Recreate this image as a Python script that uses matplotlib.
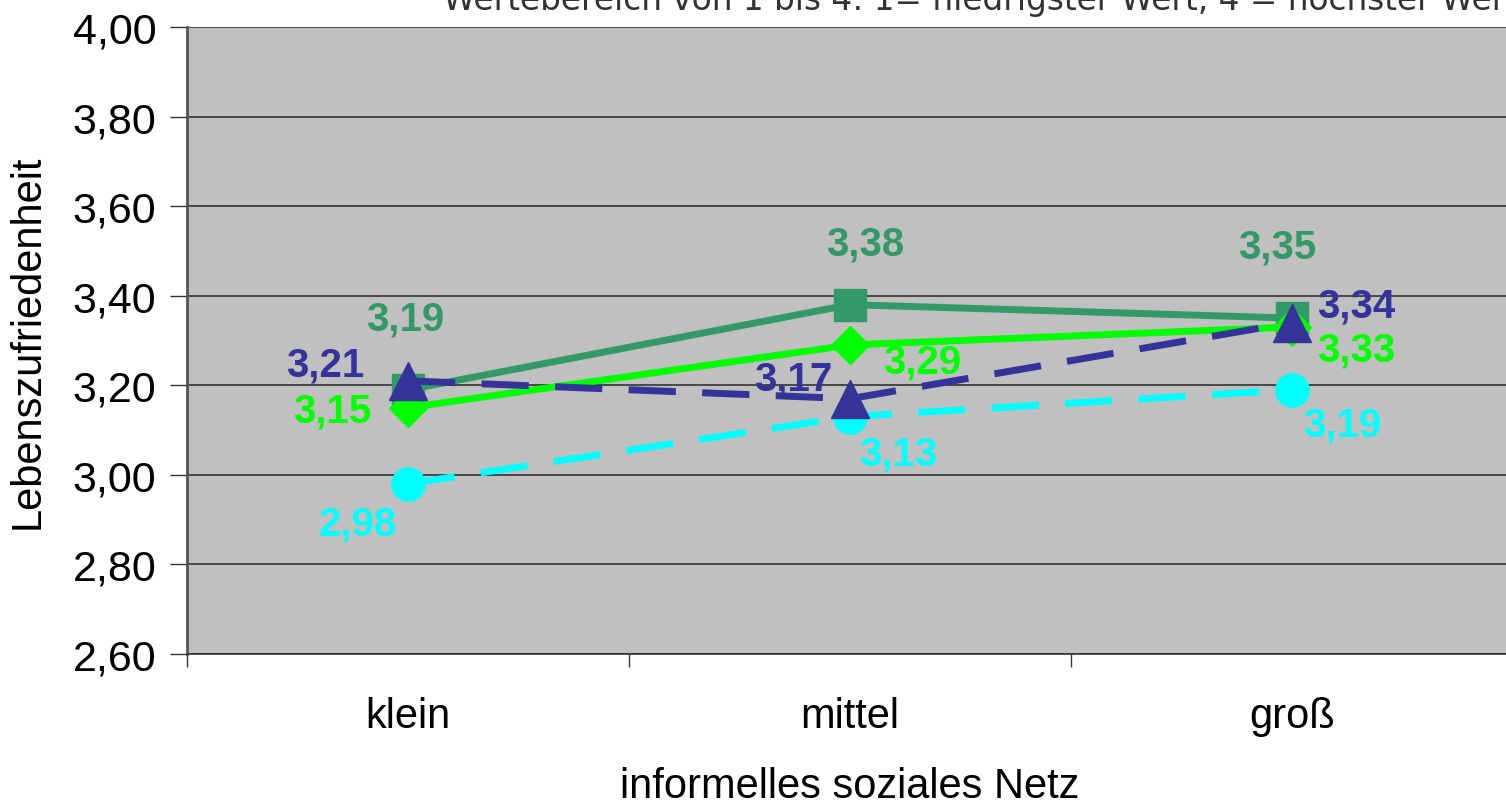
import matplotlib
matplotlib.use("Agg")
import matplotlib.pyplot as plt

categories = ["klein", "mittel", "groß"]
sq_vals = [3.19, 3.38, 3.35]      # seagreen squares
dia_vals = [3.15, 3.29, 3.33]     # green diamonds
tri_vals = [3.21, 3.17, 3.34]     # dark blue triangles
circ_vals = [2.98, 3.13, 3.19]    # cyan circles
yticks = [2.60, 2.80, 3.00, 3.20, 3.40, 3.60, 3.80, 4.00]

plt.rcParams['font.family'] = ['Liberation Sans', 'DejaVu Sans']

W, H = 1506, 803
fig = plt.figure(figsize=(W / 100, H / 100), dpi=100)
ax = fig.add_axes([187 / W, 1 - 655 / H, (1513 - 187) / W, (655 - 28) / H])
ax.set_facecolor("#C0C0C0")

x = list(range(len(categories)))
lw = 5
dash = (6.8, 3.8)
ax.plot(x, sq_vals, color="#339966", lw=lw, marker="s", ms=23, zorder=3)
ax.plot(x, dia_vals, color="#00FF00", lw=lw, marker="D", ms=19, zorder=4)
ax.plot(x, circ_vals, color="#00FFFF", lw=lw, marker="o", ms=24, dashes=dash, zorder=3)
ax.plot(x, tri_vals, color="#333399", lw=lw, marker="^", ms=27, dashes=dash, zorder=5)

def lab(i, v, dx, dy, color):
    ax.annotate(f"{v:.2f}".replace(".", ","), (i, v), xytext=(dx, dy),
                textcoords="offset pixels", ha="center", va="center",
                fontsize=29, fontweight="bold", color=color, zorder=6)

sq_off = [(-3, 71), (15, 61), (-15, 72)]
dia_off = [(-76, -3), (72, -17), (64, -22)]
tri_off = [(-83, 16), (-57, 20), (64, 17)]
circ_off = [(-50, -40), (48, -37), (50, -35)]
for i in x:
    lab(i, sq_vals[i], *sq_off[i], "#339966")
    lab(i, dia_vals[i], *dia_off[i], "#00FF00")
    lab(i, tri_vals[i], *tri_off[i], "#333399")
    lab(i, circ_vals[i], *circ_off[i], "#00FFFF")

ax.set_xlim(-0.5, 2.5)
ax.set_ylim(2.60, 4.00)
ax.set_yticks(yticks)
ax.set_yticklabels([f"{t:.2f}".replace(".", ",") for t in yticks], fontsize=31)
ax.yaxis.grid(True, color="#333333", lw=1.2)
ax.set_axisbelow(True)
ax.set_xticks([-0.5, 0.5, 1.5, 2.5])
ax.set_xticklabels([])
ax.set_xticks(x, minor=True)
ax.set_xticklabels(categories, minor=True, fontsize=30)
ax.tick_params(axis="x", which="minor", length=0, pad=30)
ax.tick_params(axis="x", which="major", length=9, width=1, color="#333333")
ax.tick_params(axis="y", length=12, width=1, color="#333333", pad=10)
for s in ["top", "right"]:
    ax.spines[s].set_visible(False)
ax.spines["left"].set_color("#555555")
ax.spines["left"].set_linewidth(2)
ax.spines["bottom"].set_color("#333333")
ax.spines["bottom"].set_linewidth(1.2)

ax.set_ylabel("Lebenszufriedenheit", fontsize=30, labelpad=18)
ax.set_xlabel("informelles soziales Netz", fontsize=30, labelpad=22)

fig.text(443 / W, 1 - 10 / H, "Wertebereich von 1 bis 4: 1= niedrigster Wert, 4 = höchster Wert",
         fontsize=23.6, color="#333333", ha="left", va="baseline", family="DejaVu Sans")

fig.savefig("out.png", dpi=100)
